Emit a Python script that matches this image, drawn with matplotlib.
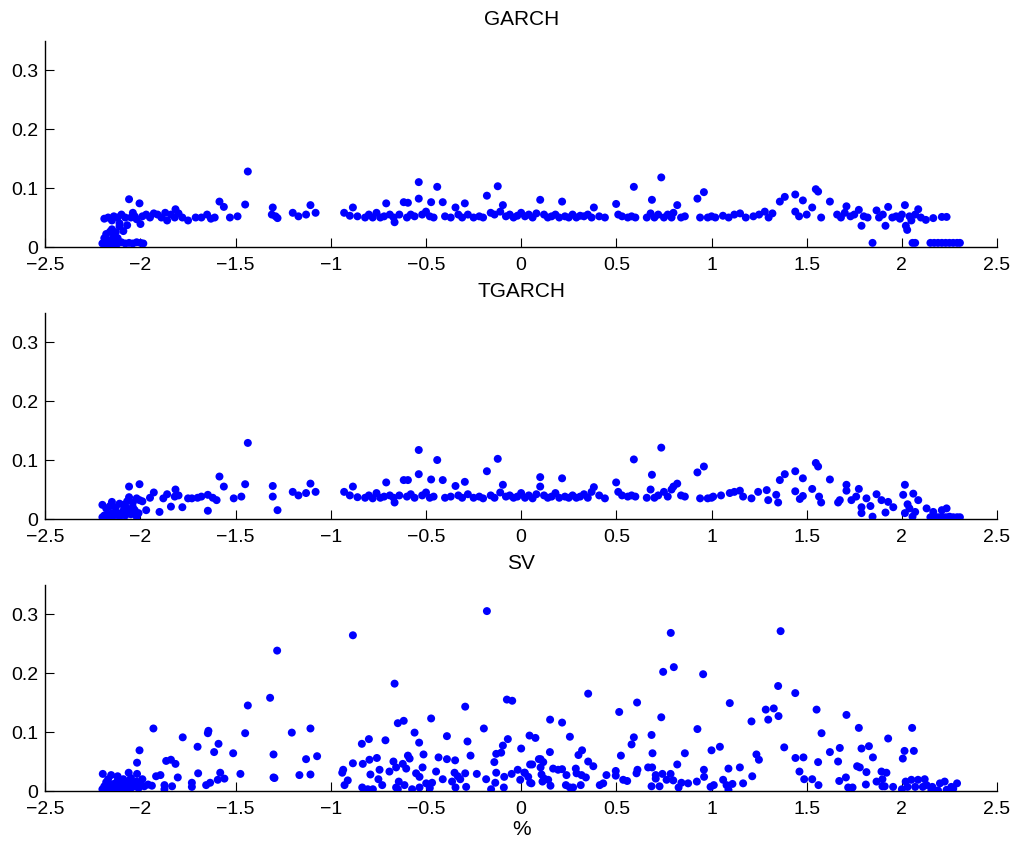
import matplotlib

matplotlib.use("Agg")
import matplotlib.pyplot as plt
from matplotlib.ticker import FuncFormatter

plt.rcParams["font.family"] = ["Liberation Sans", "DejaVu Sans"]

# GARCH panel
garch_x = [
    -2.20, -2.19, -2.18, -2.17, -2.16, -2.15, -2.14, -2.13, -2.12, -2.10,
    -2.08, -2.06, -2.04, -2.02, -2.00, -1.985, -2.19, -2.18, -2.17, -2.16,
    -2.15, -2.14, -2.13, -2.12, -2.11, -2.09, -2.07, -2.19, -2.17, -2.15,
    -2.14, -2.12, -2.11, -2.10, -2.08, -2.06, -2.05, -2.04, -2.03, -2.02,
    -2.005, -2.00, -1.99, -1.97, -1.95, -1.93, -1.91, -1.89, -1.87, -1.86,
    -1.84, -1.82, -1.816, -1.80, -1.78, -1.75, -1.71, -1.68, -1.65, -1.63,
    -1.61, -1.585, -1.562, -1.53, -1.49, -1.45, -1.436, -1.31, -1.305, -1.29,
    -1.28, -1.20, -1.17, -1.13, -1.107, -1.08, -0.93, -0.90, -0.884, -0.86,
    -0.82, -0.80, -0.78, -0.76, -0.74, -0.72, -0.709, -0.69, -0.67, -0.665,
    -0.64, -0.617, -0.60, -0.595, -0.58, -0.56, -0.538, -0.538, -0.52, -0.50,
    -0.48, -0.473, -0.46, -0.441, -0.412, -0.40, -0.37, -0.345, -0.33, -0.31,
    -0.296, -0.28, -0.25, -0.22, -0.20, -0.18, -0.16, -0.14, -0.123, -0.11,
    -0.096, -0.08, -0.06, -0.04, -0.02, 0.00, 0.02, 0.04, 0.06, 0.08,
    0.10, 0.12, 0.14, 0.16, 0.18, 0.20, 0.215, 0.23, 0.25, 0.27,
    0.29, 0.31, 0.33, 0.35, 0.37, 0.382, 0.41, 0.44, 0.499, 0.51,
    0.53, 0.56, 0.58, 0.592, 0.60, 0.66, 0.68, 0.687, 0.70, 0.72,
    0.736, 0.75, 0.77, 0.79, 0.80, 0.82, 0.84, 0.86, 0.926, 0.94,
    0.96, 0.98, 1.00, 1.02, 1.06, 1.09, 1.12, 1.15, 1.18, 1.22,
    1.25, 1.28, 1.30, 1.32, 1.359, 1.385, 1.44, 1.44, 1.46, 1.48,
    1.50, 1.529, 1.548, 1.56, 1.576, 1.622, 1.66, 1.68, 1.70, 1.709,
    1.73, 1.75, 1.774, 1.788, 1.80, 1.82, 1.846, 1.867, 1.88, 1.90,
    1.914, 1.928, 1.95, 1.97, 1.99, 2.00, 2.016, 2.021, 2.028, 2.04,
    2.05, 2.056, 2.07, 2.07, 2.086, 2.10, 2.126, 2.165, 2.15, 2.17,
    2.19, 2.21, 2.21, 2.235, 2.23, 2.25, 2.27, 2.29, 2.305,
]
garch_y = [
    0.006, 0.008, 0.005, 0.007, 0.006, 0.008, 0.005, 0.007, 0.006, 0.008,
    0.006, 0.007, 0.006, 0.008, 0.007, 0.006, 0.015, 0.022, 0.012, 0.026,
    0.030, 0.018, 0.025, 0.015, 0.035, 0.027, 0.037, 0.048, 0.050, 0.045,
    0.052, 0.050, 0.040, 0.055, 0.050, 0.081, 0.050, 0.058, 0.052, 0.047,
    0.074, 0.039, 0.052, 0.055, 0.050, 0.057, 0.055, 0.050, 0.058, 0.045,
    0.055, 0.050, 0.064, 0.057, 0.050, 0.045, 0.050, 0.050, 0.055, 0.048,
    0.050, 0.077, 0.068, 0.050, 0.052, 0.072, 0.128, 0.055, 0.067, 0.052,
    0.049, 0.058, 0.052, 0.055, 0.071, 0.058, 0.058, 0.053, 0.067, 0.052,
    0.050, 0.055, 0.050, 0.058, 0.050, 0.052, 0.074, 0.055, 0.050, 0.042,
    0.055, 0.076, 0.050, 0.075, 0.055, 0.052, 0.110, 0.082, 0.055, 0.060,
    0.052, 0.076, 0.050, 0.102, 0.076, 0.052, 0.050, 0.067, 0.055, 0.050,
    0.074, 0.055, 0.050, 0.052, 0.050, 0.087, 0.058, 0.055, 0.103, 0.060,
    0.071, 0.052, 0.055, 0.050, 0.053, 0.058, 0.052, 0.055, 0.050, 0.057,
    0.080, 0.055, 0.050, 0.052, 0.055, 0.050, 0.077, 0.052, 0.050, 0.055,
    0.050, 0.053, 0.052, 0.055, 0.050, 0.067, 0.052, 0.050, 0.073, 0.055,
    0.052, 0.050, 0.052, 0.102, 0.050, 0.050, 0.057, 0.080, 0.050, 0.055,
    0.118, 0.050, 0.055, 0.050, 0.058, 0.071, 0.050, 0.052, 0.082, 0.050,
    0.093, 0.050, 0.052, 0.050, 0.053, 0.050, 0.055, 0.057, 0.050, 0.052,
    0.055, 0.060, 0.050, 0.057, 0.077, 0.085, 0.089, 0.060, 0.052, 0.079,
    0.055, 0.067, 0.098, 0.094, 0.050, 0.077, 0.055, 0.050, 0.058, 0.069,
    0.052, 0.055, 0.063, 0.036, 0.052, 0.050, 0.007, 0.062, 0.050, 0.055,
    0.036, 0.068, 0.050, 0.052, 0.048, 0.055, 0.071, 0.036, 0.029, 0.052,
    0.045, 0.007, 0.007, 0.055, 0.064, 0.050, 0.046, 0.049, 0.007, 0.007,
    0.007, 0.007, 0.051, 0.051, 0.007, 0.007, 0.007, 0.007, 0.007,
]

# TGARCH panel
tgarch_x = [
    -2.20, -2.19, -2.18, -2.17, -2.16, -2.15, -2.14, -2.13, -2.12, -2.11,
    -2.10, -2.09, -2.08, -2.07, -2.06, -2.05, -2.04, -2.03, -2.02, -2.01,
    -2.20, -2.18, -2.16, -2.15, -2.13, -2.11, -2.09, -2.07, -2.06, -2.06,
    -2.04, -2.02, -2.005, -2.005, -1.99, -1.97, -1.95, -1.93, -1.90, -1.88,
    -1.86, -1.84, -1.82, -1.816, -1.80, -1.78, -1.75, -1.73, -1.70, -1.68,
    -1.646, -1.646, -1.62, -1.60, -1.585, -1.562, -1.51, -1.47, -1.45, -1.436,
    -1.305, -1.305, -1.28, -1.20, -1.17, -1.13, -1.107, -1.08, -0.93, -0.90,
    -0.884, -0.86, -0.82, -0.80, -0.78, -0.76, -0.74, -0.72, -0.709, -0.69,
    -0.67, -0.665, -0.64, -0.617, -0.60, -0.595, -0.58, -0.56, -0.538, -0.538,
    -0.52, -0.50, -0.48, -0.473, -0.46, -0.441, -0.412, -0.40, -0.37, -0.345,
    -0.33, -0.31, -0.296, -0.28, -0.25, -0.22, -0.20, -0.18, -0.16, -0.14,
    -0.123, -0.11, -0.096, -0.08, -0.06, -0.04, -0.02, 0.00, 0.02, 0.04,
    0.06, 0.08, 0.10, 0.10, 0.12, 0.14, 0.16, 0.18, 0.20, 0.215,
    0.23, 0.25, 0.27, 0.29, 0.31, 0.33, 0.35, 0.37, 0.382, 0.41,
    0.44, 0.499, 0.51, 0.53, 0.56, 0.58, 0.592, 0.60, 0.66, 0.68,
    0.687, 0.70, 0.72, 0.736, 0.75, 0.77, 0.79, 0.80, 0.82, 0.84,
    0.86, 0.926, 0.94, 0.96, 0.98, 1.00, 1.009, 1.05, 1.096, 1.12,
    1.149, 1.166, 1.21, 1.245, 1.29, 1.298, 1.34, 1.35, 1.359, 1.385,
    1.44, 1.44, 1.464, 1.48, 1.48, 1.529, 1.548, 1.56, 1.565, 1.576,
    1.622, 1.665, 1.674, 1.709, 1.709, 1.735, 1.76, 1.774, 1.788, 1.788,
    1.814, 1.835, 1.846, 1.867, 1.893, 1.914, 1.928, 1.955, 2.007, 2.016,
    2.016, 2.03, 2.04, 2.056, 2.06, 2.07, 2.086, 2.13, 2.165, 2.21,
    2.235, 2.15, 2.17, 2.19, 2.21, 2.23, 2.25, 2.27, 2.29, 2.305,
]
tgarch_y = [
    0.003, 0.006, 0.004, 0.008, 0.005, 0.010, 0.006, 0.012, 0.008, 0.004,
    0.010, 0.014, 0.006, 0.018, 0.012, 0.008, 0.020, 0.015, 0.004, 0.010,
    0.024, 0.018, 0.022, 0.029, 0.020, 0.026, 0.024, 0.030, 0.037, 0.055,
    0.028, 0.035, 0.059, 0.032, 0.030, 0.015, 0.036, 0.045, 0.012, 0.035,
    0.042, 0.021, 0.038, 0.050, 0.040, 0.020, 0.035, 0.035, 0.036, 0.038,
    0.041, 0.014, 0.036, 0.032, 0.072, 0.055, 0.035, 0.038, 0.059, 0.129,
    0.056, 0.038, 0.015, 0.046, 0.040, 0.044, 0.060, 0.046, 0.046, 0.040,
    0.055, 0.037, 0.036, 0.040, 0.035, 0.044, 0.036, 0.038, 0.062, 0.040,
    0.036, 0.028, 0.040, 0.066, 0.038, 0.066, 0.042, 0.036, 0.117, 0.076,
    0.040, 0.045, 0.036, 0.067, 0.038, 0.100, 0.066, 0.036, 0.038, 0.056,
    0.040, 0.036, 0.063, 0.042, 0.036, 0.038, 0.035, 0.081, 0.040, 0.036,
    0.102, 0.045, 0.058, 0.038, 0.040, 0.036, 0.038, 0.044, 0.036, 0.040,
    0.035, 0.042, 0.071, 0.055, 0.040, 0.036, 0.038, 0.044, 0.036, 0.069,
    0.038, 0.036, 0.040, 0.036, 0.038, 0.042, 0.036, 0.046, 0.054, 0.040,
    0.035, 0.062, 0.046, 0.040, 0.038, 0.040, 0.101, 0.038, 0.036, 0.050,
    0.075, 0.036, 0.040, 0.121, 0.046, 0.038, 0.050, 0.055, 0.060, 0.040,
    0.038, 0.079, 0.035, 0.089, 0.035, 0.036, 0.038, 0.040, 0.044, 0.046,
    0.048, 0.038, 0.035, 0.046, 0.049, 0.032, 0.041, 0.028, 0.066, 0.076,
    0.081, 0.047, 0.034, 0.069, 0.039, 0.051, 0.095, 0.089, 0.038, 0.028,
    0.067, 0.028, 0.032, 0.058, 0.048, 0.032, 0.038, 0.051, 0.020, 0.010,
    0.035, 0.022, 0.004, 0.042, 0.032, 0.011, 0.029, 0.020, 0.041, 0.058,
    0.010, 0.025, 0.018, 0.004, 0.043, 0.012, 0.032, 0.018, 0.012, 0.015,
    0.018, 0.003, 0.004, 0.003, 0.004, 0.003, 0.004, 0.003, 0.003, 0.003,
]

# SV panel
sv_x = [
    -0.180, -0.884, -1.282, -0.665, -1.319, -1.436, -0.294, -0.075, -0.047, -0.473,
    -0.648, -0.617, -1.932, -1.107, -1.205, -0.196, -0.560, -1.646, -1.643, -1.450,
    -0.390, 0.044, 0.075, -1.778, -0.070, -0.800, -0.713, -1.700, -1.590, -0.837,
    -0.536, -0.282, -0.096, -2.005, 0.000, -1.613, -1.513, -1.301, -0.131, -0.105,
    -0.595, -0.586, -0.513, -0.266, -1.072, -0.434, -0.390, -0.347, -0.758, 0.093,
    -2.018, -1.865, -1.840, -1.816, -1.130, -0.797, -0.884, -0.832, -0.671, -0.622,
    -0.141, 0.047, -0.744, -0.692, -0.657, -0.604, -0.518, -0.447, -0.350, -0.294,
    -0.233, -0.018, 0.017, -0.935, -0.940, -1.697, -1.581, -1.475, -1.301, -1.296,
    -1.165, -1.107, -2.198, -2.154, -2.062, -2.018, -1.918, -1.895, -1.804, -0.792,
    -0.750, -0.552, -0.534, -0.333, -0.412, -0.363, -0.320, -0.184, -0.131, -0.089,
    -0.136, -0.005, 0.047, -0.928, -0.911, -0.730, -0.643, -0.648, -0.657, -0.613,
    -0.573, -0.534, -0.499, -0.480, -0.468, -0.345, -0.289, -0.158, -0.091, -0.835,
    -0.806, -0.779, -1.874, -1.874, -1.834, -1.730, -1.730, -1.655, -1.634, -1.594,
    -1.559, -2.20, -2.19, -2.18, -2.17, -2.16, -2.15, -2.14, -2.13, -2.12,
    -2.11, -2.10, -2.09, -2.08, -2.07, -2.06, -2.05, -2.04, -2.03, -2.02,
    -2.01, -2.00, -1.99, -1.98, -1.96, -1.94, -2.17, -2.12, -2.09, -2.05,
    0.786, 1.363, 0.802, 0.746, 0.956, 1.350, 0.352, 1.440, 1.096, 0.609,
    1.285, 1.327, 1.552, 0.515, 1.352, 0.736, 1.709, 1.298, 1.210, 0.152,
    0.215, 1.774, 2.054, 0.926, 1.578, 0.685, 0.256, 0.592, 1.928, 0.580,
    1.044, 1.382, 1.674, 1.788, 1.827, 1.000, 2.014, 2.063, 0.320, 0.301,
    0.151, 0.690, 0.860, 1.622, 0.524, 1.236, 1.441, 1.483, 1.848, 1.249,
    2.005, 0.102, 1.560, 1.665, 0.352, 0.058, 0.116, 0.379, 0.820, 0.667,
    0.688, 0.102, 0.168, 0.215, 0.287, 1.089, 1.149, 0.960, 1.765, 1.779,
    1.814, 1.893, 1.919, 1.462, -0.050, 0.019, 0.037, 0.054, 0.107, 0.194,
    0.238, 0.291, 0.317, 0.340, 0.448, 0.497, 0.497, 0.536, 0.557, 0.606,
    0.611, 0.707, 0.707, 0.742, 0.785, 0.764, 0.799, 0.961, 1.061, 1.214,
    1.487, 1.529, 1.671, 1.706, 1.867, 1.898, 1.898, 1.910, 1.811, 1.562,
    1.166, 1.110, 1.079, 1.089, 0.995, 1.012, 0.923, 0.877, 0.842, 0.827,
    0.727, 0.685, 0.413, 0.431, 0.313, 0.235, 0.256, 0.273, 0.154, 0.142,
    0.112, 0.121, 1.718, 1.741, 1.954, 2.00, 2.02, 2.03, 2.05, 2.07,
    2.085, 2.11, 2.12, 2.13, 2.16, 2.155, 2.19, 2.20, 2.225, 2.235,
    2.26, 2.29, 2.27,
]
sv_y = [
    0.305, 0.264, 0.238, 0.182, 0.158, 0.145, 0.143, 0.155, 0.153, 0.123,
    0.115, 0.119, 0.106, 0.106, 0.099, 0.106, 0.099, 0.098, 0.102, 0.098,
    0.093, 0.094, 0.090, 0.091, 0.088, 0.088, 0.086, 0.075, 0.080, 0.080,
    0.082, 0.084, 0.077, 0.069, 0.072, 0.066, 0.064, 0.062, 0.063, 0.065,
    0.060, 0.055, 0.062, 0.060, 0.059, 0.057, 0.054, 0.052, 0.056, 0.054,
    0.048, 0.051, 0.053, 0.046, 0.054, 0.053, 0.047, 0.046, 0.050, 0.046,
    0.049, 0.045, 0.036, 0.033, 0.040, 0.038, 0.040, 0.033, 0.031, 0.030,
    0.029, 0.036, 0.031, 0.036, 0.031, 0.030, 0.031, 0.029, 0.023, 0.022,
    0.027, 0.028, 0.029, 0.027, 0.031, 0.029, 0.025, 0.027, 0.023, 0.028,
    0.020, 0.030, 0.024, 0.025, 0.020, 0.016, 0.020, 0.020, 0.031, 0.024,
    0.014, 0.019, 0.014, 0.010, 0.018, 0.010, 0.016, 0.003, 0.006, 0.010,
    0.003, 0.006, 0.013, 0.005, 0.014, 0.006, 0.007, 0.003, 0.006, 0.006,
    0.003, 0.003, 0.010, 0.003, 0.008, 0.014, 0.007, 0.010, 0.014, 0.019,
    0.021, 0.003, 0.008, 0.015, 0.005, 0.010, 0.002, 0.012, 0.006, 0.018,
    0.004, 0.010, 0.020, 0.006, 0.014, 0.003, 0.022, 0.012, 0.008, 0.016,
    0.005, 0.012, 0.020, 0.008, 0.011, 0.009, 0.020, 0.025, 0.004, 0.005,
    0.268, 0.271, 0.210, 0.202, 0.198, 0.178, 0.165, 0.166, 0.149, 0.150,
    0.138, 0.140, 0.138, 0.134, 0.127, 0.125, 0.129, 0.121, 0.118, 0.121,
    0.116, 0.107, 0.107, 0.105, 0.098, 0.095, 0.092, 0.091, 0.089, 0.079,
    0.075, 0.074, 0.073, 0.072, 0.076, 0.069, 0.068, 0.068, 0.069, 0.061,
    0.066, 0.064, 0.064, 0.066, 0.060, 0.062, 0.056, 0.057, 0.057, 0.053,
    0.055, 0.054, 0.049, 0.050, 0.050, 0.045, 0.049, 0.042, 0.045, 0.040,
    0.040, 0.040, 0.038, 0.037, 0.038, 0.038, 0.040, 0.036, 0.042, 0.040,
    0.032, 0.033, 0.031, 0.033, 0.029, 0.031, 0.024, 0.013, 0.028, 0.036,
    0.027, 0.030, 0.027, 0.023, 0.027, 0.034, 0.026, 0.019, 0.017, 0.030,
    0.036, 0.027, 0.021, 0.029, 0.029, 0.019, 0.018, 0.024, 0.019, 0.025,
    0.020, 0.020, 0.017, 0.023, 0.016, 0.020, 0.008, 0.008, 0.011, 0.010,
    0.013, 0.012, 0.010, 0.002, 0.007, 0.010, 0.016, 0.013, 0.014, 0.006,
    0.008, 0.008, 0.010, 0.013, 0.010, 0.010, 0.006, 0.006, 0.009, 0.019,
    0.016, 0.021, 0.006, 0.006, 0.007, 0.003, 0.016, 0.007, 0.019, 0.007,
    0.019, 0.007, 0.020, 0.010, 0.007, 0.002, 0.001, 0.013, 0.016, 0.002,
    0.007, 0.013, 0.004,
]

titles = ["GARCH", "TGARCH", "SV"]
x_ticks = [-2.5, -2, -1.5, -1, -0.5, 0, 0.5, 1, 1.5, 2, 2.5]
y_ticks = [0, 0.1, 0.2, 0.3]


def fmt(v, pos):
    return ("%g" % v).replace("-", "\u2212")


def draw_panel(ax, xs, ys, title):
    ax.scatter(xs, ys, s=33, color="#0000ff", edgecolors="none", zorder=3)
    ax.set_xlim(-2.5, 2.5)
    ax.set_ylim(0, 0.35)
    ax.set_xticks(x_ticks)
    ax.set_yticks(y_ticks)
    ax.xaxis.set_major_formatter(FuncFormatter(fmt))
    ax.yaxis.set_major_formatter(FuncFormatter(fmt))
    ax.tick_params(direction="in", length=6.5, width=0.8, labelsize=14)
    ax.tick_params(axis="x", pad=7)
    ax.tick_params(axis="y", pad=5)
    for side in ["top", "right"]:
        ax.spines[side].set_visible(False)
    for side in ["left", "bottom"]:
        ax.spines[side].set_linewidth(1.0)
    ax.set_title(title, fontsize=15, pad=11.5)


assert len(garch_x) == len(garch_y)
assert len(tgarch_x) == len(tgarch_y)
assert len(sv_x) == len(sv_y)

fig = plt.figure(figsize=(10.18, 8.5), dpi=100)
left, width, height = 0.0445, 0.9349, 0.2429
bottoms = [0.7094, 0.3894, 0.0694]
series = [(garch_x, garch_y), (tgarch_x, tgarch_y), (sv_x, sv_y)]

for b, (xs, ys), t in zip(bottoms, series, titles):
    ax = fig.add_axes([left, b, width, height])
    draw_panel(ax, xs, ys, t)

ax.set_xlabel("%", fontsize=15, labelpad=1.5)

fig.savefig("out.png", dpi=100)
plt.close(fig)
